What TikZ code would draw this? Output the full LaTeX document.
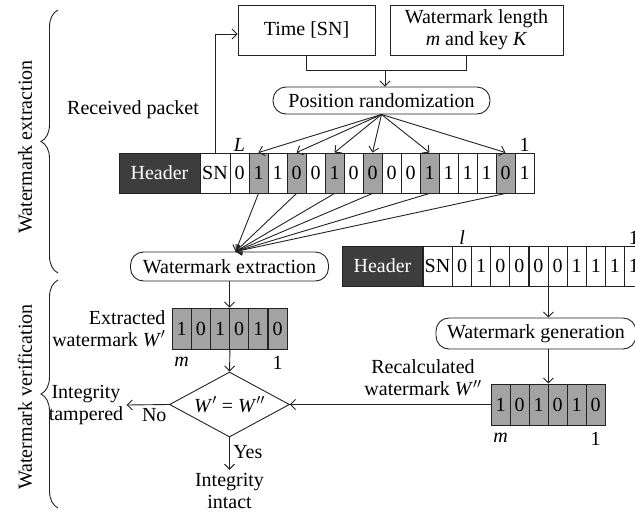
\documentclass[tikz,border=0pt]{standalone}
\usepackage{fontspec}
\setmainfont{Liberation Serif}
\usetikzlibrary{arrows.meta,positioning,calc,shapes.geometric,decorations.pathreplacing}
\definecolor{headdark}{HTML}{3D3D3D}
\definecolor{bitgray}{HTML}{A3A3A3}
\definecolor{ink}{HTML}{222222}
\tikzset{
  box/.style={draw=ink,line width=0.9pt,align=center,inner sep=2pt},
  proc/.style={draw=ink,line width=0.9pt,rounded corners=13pt,align=center,
    inner sep=1pt,minimum height=27pt},
  head/.style={draw=ink,fill=headdark,text=white,line width=0.9pt,
    minimum width=81pt,minimum height=40pt,inner sep=0pt},
  bit/.style={draw=ink,line width=0.9pt,minimum width=19pt,minimum height=40pt,inner sep=0pt},
  check/.style={draw=ink,line width=0.9pt,diamond,aspect=1.85,inner sep=0pt,
    minimum width=120pt,minimum height=65pt},
  arrow/.style={-{Straight Barb[length=5pt,width=10pt]},draw=ink,line width=0.9pt},
  link/.style={draw=ink,line width=0.9pt},
  tag/.style={inner sep=1pt},
  sidebrace/.style={draw=ink,line width=0.9pt,decorate,decoration={brace,amplitude=17pt}}
}
\begin{document}
\begin{tikzpicture}[x=1pt,y=-1pt,font=\fontsize{20}{22}\selectfont]
  \useasboundingbox (0,0) rectangle (635,515);
  \clip (0,0) rectangle (635,515);
  % extraction side
  \node[box,minimum width=137pt,minimum height=50pt] (time) at (306.5,30) {Time [SN]};
  \node[box,minimum width=173pt,minimum height=50pt] (wlen) at (476.5,30) {Watermark length\\\textit{m} and key \textit{K}};
  \node[proc,minimum width=217pt] (posr) at (381.5,100.5) {Position randomization};
  \node (recv) at (133,110) {Received packet};
  \node[head] (hA) at (159.5,173) {Header};
  \node[bit,minimum width=30pt] (snA) at (215,173) {SN};
  \foreach \b/\f [count=\i] in {0/white,1/bitgray,1/white,0/bitgray,0/white,1/bitgray,0/white,0/bitgray,
      0/white,0/white,1/bitgray,1/white,1/white,1/white,0/bitgray,1/white}
    \node[bit,fill=\f] (c\i) at ({230+19*(\i-0.5)},173) {\b};
  \node[tag,above=0pt of c1] (lA) {\textit{L}};
  \node[tag,above=0pt of c16] (oA) {1};
  \coordinate (join) at (385,70);
  \draw[link] (time.south) |- (join);
  \draw[link] ([xshift=-10pt]wlen.south) |- (join);
  \draw[arrow] (join) -- (join |- posr.north);
  \draw[arrow] (snA.north) |- ([yshift=-4pt]time.west);
  \foreach \k in {2,4,6,8,11,15}
    \draw[arrow] (posr.south) -- (c\k.north);
  \node[proc,minimum width=198pt,minimum height=29pt] (wext) at (229.5,266.5) {Watermark extraction};
  \coordinate (meet) at ([xshift=6pt]wext.north);
  \foreach \k in {2,4,6,8,11,15}
    \draw[arrow] (c\k.south) -- (meet);
  % verification side
  \foreach \b [count=\i] in {1,0,1,0,1,0}
    \node[bit,fill=bitgray,minimum height=41pt] (e\i) at ({172+19.2*(\i-0.5)},328.5) {\b};
  \node[tag,left=5pt of e1,align=right] (wlab) {Extracted\\watermark \textit{W}$'$};
  \node[tag,below=6pt of e1] (mE) {\textit{m}};
  \node[tag,below=6pt of e6] (oE) {1};
  \draw[arrow] (wext.south) -- (wext.south |- e1.north);
  \node[check] (dm) at (229.5,404.5) {\textit{W}$'$ = \textit{W}$''$};
  \draw[arrow] (e3.south east) -- (dm.north);
  \node[align=center] (tamp) at (86,405) {Integrity\\tampered};
  \draw[arrow] (dm.west) -- node[pos=0.35,below] {No} (tamp.east);
  \node[align=center] (intact) at (229.5,491) {Integrity\\intact};
  \draw[arrow] (dm.south) -- node[right,pos=0.45] {Yes} (intact.north);
  \node[head] (hB) at (382.5,266) {Header};
  \node[bit,minimum width=30pt] (snB) at (437.5,266) {SN};
  \foreach \b [count=\i] in {0,1,0,0,0,0,1,1,1,1}
    \node[bit] (r\i) at ({452.5+19.1*(\i-0.5)},266) {\b};
  \node[tag,above=0pt of r1] (lB) {\textit{l}};
  \node[tag,above=0pt of r10] (oB) {1};
  \node[proc,minimum width=200pt,minimum height=31pt] (wgen) at (536,333.5) {Watermark generation};
  \draw[arrow] (r5.south east) -- (r5.south east |- wgen.north);
  \foreach \b [count=\i] in {1,0,1,0,1,0}
    \node[bit,fill=bitgray,minimum height=41pt] (g\i) at ({491+19*(\i-0.5)},404.5) {\b};
  \draw[arrow] (r5.south east |- wgen.south) -- (r5.south east |- g1.north);
  \draw[arrow] (g1.west) -- (dm.east);
  \node[align=center] (rlab) at (423,378) {Recalculated\\watermark \textit{W}$''$};
  \node[tag,below=6pt of g1] (mG) {\textit{m}};
  \node[tag,below=6pt of g6] (oG) {1};
  % side braces
  \draw[sidebrace] (58,273) -- (58,10);
  \draw[sidebrace] (58,508) -- (58,280);
  \node[rotate=90] (bxA) at (25,147) {Watermark extraction};
  \node[rotate=90] (bxB) at (25,397) {Watermark verification};
\end{tikzpicture}
\end{document}
